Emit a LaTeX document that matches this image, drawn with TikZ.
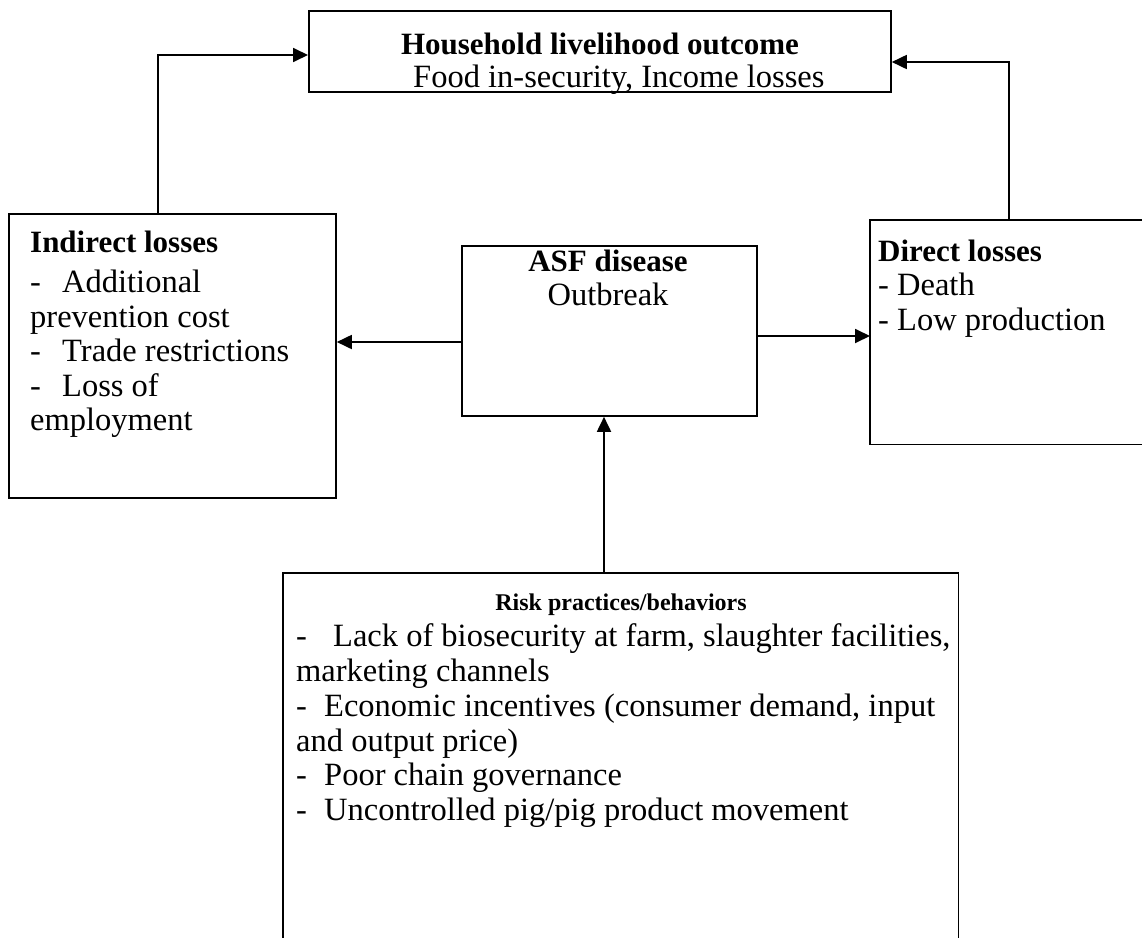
\documentclass[tikz,border=0pt]{standalone}
\usepackage{fontspec}
\setmainfont{Liberation Serif}
\usetikzlibrary{arrows.meta}
\begin{document}
\begin{tikzpicture}[x=1pt,y=-1pt,
 box/.style={draw,line width=1.8pt,inner sep=0pt,anchor=north west},
 ghost/.style={inner sep=0pt,anchor=north west},
 open/.style={line width=1.8pt},
 txt/.style={inner sep=0pt,anchor=base west,font=\fontsize{32.5}{34.5}\selectfont},
 ctxt/.style={inner sep=0pt,anchor=base,font=\fontsize{32.5}{34.5}\selectfont},
 hd/.style={font=\fontsize{31}{34.5}\selectfont\bfseries},
 small/.style={inner sep=0pt,anchor=base,font=\fontsize{24}{28}\selectfont\bfseries},
 arr/.style={line width=1.8pt,-{Triangle[length=15pt,width=14pt]}}]
\useasboundingbox (0,0) rectangle (1142,937);
% boxes
\node[box,minimum width=582pt,minimum height=81pt] (top) at (308,10) {};
\node[box,minimum width=327pt,minimum height=284pt] (left) at (8,213) {};
\node[box,minimum width=295pt,minimum height=170pt] (mid) at (461,245) {};
\node[ghost,minimum width=280pt,minimum height=224pt] (right) at (870,220) {};
\draw[open] (right.north east) -- (right.north west) -- (right.south west) -- (right.south east);
\node[ghost,minimum width=675pt,minimum height=380pt] (bot) at (283,573) {};
\draw[open] (bot.south west) -- (bot.north west) -- (bot.north east) -- (bot.south east);
% top text
\node[ctxt,hd] (t1) at (600,54) {Household livelihood outcome};
\node[txt] (t2) at (413,87) {Food in-security, Income losses};
% left text
\node[txt,hd] (l1) at (30,252) {Indirect losses};
\node[txt] (l2) at (30,292) {\makebox[32pt][l]{-}Additional};
\node[txt] (l3) at (30,327) {prevention cost};
\node[txt] (l4) at (30,361) {\makebox[32pt][l]{-}Trade restrictions};
\node[txt] (l5) at (30,396) {\makebox[32pt][l]{-}Loss of};
\node[txt] (l6) at (30,430) {employment};
% middle text
\node[ctxt,hd] (m1) at (608,271) {ASF disease};
\node[ctxt] (m2) at (608,305) {Outbreak};
% right text
\node[txt,hd] (r1) at (878,261) {Direct losses};
\node[txt] (r2) at (878,295) {- Death};
\node[txt] (r3) at (878,330) {- Low production};
% bottom text
\node[small] (b0) at (621,610) {Risk practices/behaviors};
\node[txt] (b1) at (296,646) {\makebox[37pt][l]{-}Lack of biosecurity at farm, slaughter facilities,};
\node[txt] (b2) at (296,681) {marketing channels};
\node[txt] (b3) at (296,716) {\makebox[28pt][l]{-}Economic incentives (consumer demand, input};
\node[txt] (b4) at (296,751) {and output price)};
\node[txt] (b5) at (296,785) {\makebox[28pt][l]{-}Poor chain governance};
\node[txt] (b6) at (296,820) {\makebox[28pt][l]{-}Uncontrolled pig/pig product movement};
% connectors
\coordinate (lj) at (158,55);
\coordinate (rj) at (1009,62);
\draw[arr] (left.north -| lj) -- (lj) -- (lj -| top.west);
\draw[arr] (right.north -| rj) -- (rj) -- (rj -| top.east);
\draw[arr] (mid.west |- 0,342) -- (left.east |- 0,342);
\draw[arr] (mid.east |- 0,336) -- (right.west |- 0,336);
\draw[arr] (bot.north -| 604,0) -- (mid.south -| 604,0);
\end{tikzpicture}
\end{document}
